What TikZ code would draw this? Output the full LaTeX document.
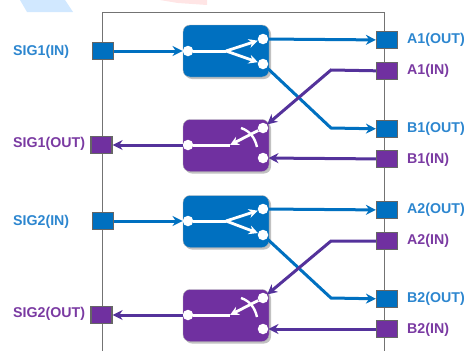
\documentclass[tikz,border=0pt]{standalone}
\usepackage{fontspec}
\setmainfont{Liberation Sans}
\usetikzlibrary{arrows.meta,shadows}
\definecolor{swblue}{HTML}{0070C0}
\definecolor{swpurple}{HTML}{7030A0}
\definecolor{wirepurple}{HTML}{54329B}
\definecolor{txtblue}{HTML}{2C86CF}
\definecolor{txtpurple}{HTML}{7A3AA2}
\tikzset{
  box/.style={minimum width=86pt,minimum height=52pt,rounded corners=7pt,inner sep=0pt,draw=gray!60,line width=.4pt,
    drop shadow={shadow xshift=2pt,shadow yshift=-2pt,opacity=.35,fill=black!70}},
  pad/.style={draw=black!60,line width=1.2pt,minimum width=21pt,minimum height=17pt,inner sep=0pt},
  dot/.style={circle,fill=white,minimum size=10.5pt,inner sep=0pt},
  lbl/.style={anchor=west,inner sep=0pt,font=\fontsize{14.2}{16}\selectfont\bfseries},
  bluewire/.style={draw=swblue,line width=3pt,-{Stealth[length=10pt,width=10pt]}},
  purplewire/.style={draw=wirepurple,line width=3pt,-{Stealth[length=10pt,width=10pt]}},
  swline/.style={draw=white,line width=3pt},
  swarrow/.style={draw=white,line width=2.8pt,-{Stealth[length=9pt,width=9pt]}}
}
\begin{document}
\begin{tikzpicture}[x=1pt,y=-1pt]
\useasboundingbox (0,0) rectangle (468,351);

% faint marks at the top edge
\fill[blue!50!cyan!18] (20,0) -- (65,0) -- (73,12) -- (27,12) -- cycle;
\fill[red!10] (160,0) -- (207,0) -- (207,5) -- (178,3) -- cycle;

% chip outline
\draw[black!55,line width=1pt] (102.5,351) -- (102.5,12.7) -- (384.7,12.7) -- (384.7,351);

\node[box,fill=swblue](sw1) at (226,51){};
\node[box,fill=swpurple](sw2) at (226,145.5){};
\node[box,fill=swblue](sw3) at (226,221.5){};
\node[box,fill=swpurple](sw4) at (226,315.5){};

\node[dot](c1) at (188,51){};
\node[dot](c1a) at (263,39){};
\node[dot](c1b) at (263,64){};
\node[dot](c2) at (188,145){};
\node[dot](c2a) at (263,128){};
\node[dot](c2b) at (263,158){};
\node[dot](c3) at (188,221){};
\node[dot](c3a) at (263,209){};
\node[dot](c3b) at (263,235){};
\node[dot](c4) at (188,315){};
\node[dot](c4a) at (263,298){};
\node[dot](c4b) at (263,329){};

\coordinate (j1) at (226,51);
\coordinate (j2) at (230,145);
\coordinate (j3) at (226,221);
\coordinate (j4) at (230,315);

\path (c1) edge[swline] (j1);
\path (j1) edge[swarrow] (c1a);
\path (j1) edge[swarrow] (c1b);
\path (c2) edge[swline] (j2);
\path (c2a) edge[swarrow] (j2);
\draw[swline,line width=2.4pt] (241,128) .. controls (250,131) and (255,138) .. (257,147);
\path (c3) edge[swline] (j3);
\path (j3) edge[swarrow] (c3a);
\path (j3) edge[swarrow] (c3b);
\path (c4) edge[swline] (j4);
\path (c4a) edge[swarrow] (j4);
\draw[swline,line width=2.4pt] (241,298) .. controls (250,301) and (255,308) .. (257,317);

\node[pad,fill=swblue](sig1in) at (103,51){};
\node[pad,fill=swpurple](sig1out) at (101.5,145){};
\node[pad,fill=swblue](sig2in) at (103,221){};
\node[pad,fill=swpurple](sig2out) at (101.5,315){};
\node[pad,fill=swblue](a1out) at (387,40){};
\node[pad,fill=swpurple](a1in) at (387,71){};
\node[pad,fill=swblue](b1out) at (387,129){};
\node[pad,fill=swpurple](b1in) at (387,159){};
\node[pad,fill=swblue](a2out) at (387,210){};
\node[pad,fill=swpurple](a2in) at (387,241){};
\node[pad,fill=swblue](b2out) at (387,299){};
\node[pad,fill=swpurple](b2in) at (387,329){};

\node[lbl,text=txtblue] at (13,52){SIG1(IN)};
\node[lbl,text=txtpurple] at (13,144){SIG1(OUT)};
\node[lbl,text=txtblue] at (13,222){SIG2(IN)};
\node[lbl,text=txtpurple] at (13,314){SIG2(OUT)};
\node[lbl,text=txtblue] at (407,40){A1(OUT)};
\node[lbl,text=txtpurple] at (407,71){A1(IN)};
\node[lbl,text=txtblue] at (407,129){B1(OUT)};
\node[lbl,text=txtpurple] at (407,160){B1(IN)};
\node[lbl,text=txtblue] at (407,210){A2(OUT)};
\node[lbl,text=txtpurple] at (407,241){A2(IN)};
\node[lbl,text=txtblue] at (407,299){B2(OUT)};
\node[lbl,text=txtpurple] at (407,330){B2(IN)};

\coordinate (k1) at (331,128);
\coordinate (k2) at (331,70);
\coordinate (k3) at (331,298);
\coordinate (k4) at (331,241);

\path (sig1in) edge[bluewire] (c1);
\path (c1a) edge[bluewire] (a1out);
\draw[bluewire] (c1b) -- (k1) -- (b1out);
\draw[purplewire] (a1in) -- (k2) -- (c2a);
\path (b1in) edge[purplewire] (c2b);
\path (c2) edge[purplewire] (sig1out);

\path (sig2in) edge[bluewire] (c3);
\path (c3a) edge[bluewire] (a2out);
\draw[bluewire] (c3b) -- (k3) -- (b2out);
\draw[purplewire] (a2in) -- (k4) -- (c4a);
\path (b2in) edge[purplewire] (c4b);
\path (c4) edge[purplewire] (sig2out);
\end{tikzpicture}
\end{document}
